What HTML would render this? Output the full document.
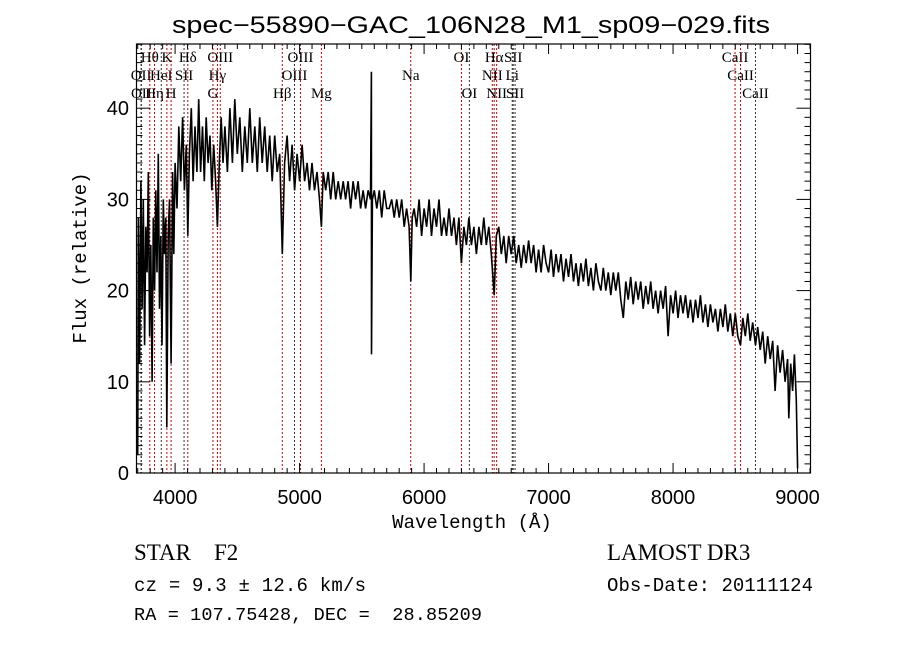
<!DOCTYPE html>
<html><head><meta charset="utf-8">
<style>
html,body{margin:0;padding:0;background:#fff;}
svg{display:block;}
text{fill:#000;}
</style></head>
<body>
<svg id="chart" width="900" height="649" viewBox="0 0 900 649" xmlns="http://www.w3.org/2000/svg">
<rect width="900" height="649" fill="#fff"/>
<text x="172" y="33" font-family="Liberation Sans, sans-serif" font-size="24" textLength="598" lengthAdjust="spacingAndGlyphs">spec−55890−GAC_106N28_M1_sp09−029.fits</text>
<g id="lines"></g>
<g id="spec"></g>
<g id="axes"></g>
<text x="472" y="528" font-family="Liberation Mono, monospace" font-size="19" text-anchor="middle">Wavelength (Å)</text>
<text transform="translate(86,258) rotate(-90)" font-family="Liberation Mono, monospace" font-size="19" text-anchor="middle">Flux (relative)</text>
<text x="134" y="560" font-family="Liberation Serif, serif" font-size="23" xml:space="preserve">STAR    F2</text>
<text x="134" y="591" font-family="Liberation Mono, monospace" font-size="19" textLength="232">cz = 9.3 ± 12.6 km/s</text>
<text x="134" y="620" font-family="Liberation Mono, monospace" font-size="18.5" xml:space="preserve" textLength="348">RA = 107.75428, DEC =  28.85209</text>
<text x="607" y="560" font-family="Liberation Serif, serif" font-size="23">LAMOST DR3</text>
<text x="607" y="591" font-family="Liberation Mono, monospace" font-size="19" textLength="206">Obs-Date: 20111124</text>
</svg>
<script>
const wave = [3700,3705,3715,3725,3735,3745,3755,3765,3775,3785,3795,3805,3815,3825,3835,3845,3855,3865,3875,3885,3895,3905,3915,3925,3933,3945,3955,3968,3980,3990,4000,4015,4030,4045,4060,4075,4090,4102,4115,4130,4145,4160,4175,4190,4205,4220,4235,4250,4265,4280,4295,4310,4325,4340,4355,4370,4385,4400,4420,4440,4460,4480,4500,4520,4540,4560,4580,4600,4620,4640,4660,4680,4700,4720,4740,4760,4780,4800,4820,4840,4861,4880,4900,4920,4940,4960,4980,5000,5020,5040,5060,5080,5100,5120,5140,5160,5175,5190,5210,5230,5250,5270,5290,5310,5330,5350,5370,5390,5410,5430,5450,5470,5490,5510,5530,5550,5570,5577,5578,5585,5600,5620,5640,5660,5680,5700,5720,5740,5760,5780,5800,5820,5840,5860,5880,5893,5905,5920,5940,5960,5980,6000,6020,6040,6060,6080,6100,6120,6140,6160,6180,6200,6220,6240,6260,6280,6300,6320,6340,6360,6380,6400,6420,6440,6460,6480,6500,6520,6540,6563,6580,6600,6620,6640,6660,6680,6700,6720,6740,6760,6780,6800,6820,6840,6860,6880,6900,6920,6940,6960,6980,7000,7020,7040,7060,7080,7100,7120,7140,7160,7180,7200,7220,7240,7260,7280,7300,7320,7340,7360,7380,7400,7420,7440,7460,7480,7500,7520,7540,7560,7580,7600,7620,7640,7660,7680,7700,7720,7740,7760,7780,7800,7820,7840,7860,7880,7900,7920,7940,7960,7980,8000,8020,8040,8060,8080,8100,8120,8140,8160,8180,8200,8220,8240,8260,8280,8300,8320,8340,8360,8380,8400,8420,8440,8460,8480,8500,8520,8542,8560,8580,8600,8620,8640,8662,8680,8700,8720,8740,8760,8780,8800,8820,8840,8860,8880,8900,8920,8930,8945,8960,8975,8990,9000];
const flux = [2,28,12,32,18,30,14,27,22,33,15,25,10,28,20,31,22,35,18,26,14,30,24,28,5,26,30,12,33,24,34,29,38,32,39,31,36,26,35,40,32,38,33,41,33,38,32,39,34,37,31,36,32,27,34,39,34,38,33,40,34,41,35,39,33,38,34,40,34,38,33,39,34,38,33,37,32,37,33,35,24,34,37,32,36,31,35,32,36,32,34,31,34,31,33,30,27,33,31,33,30,33,30,32,30,32,30,32,29,32,30,32,29,31,29,31,30,44,13,30,31,29,31,28,31,29,29,30,28,30,28,30,27,29,27,21,28,29,27,30,26,29,27,30,26,29,27,30,26,28,26,29,26,28,25,28,23,27,25,28,25,27,24,27,25,28,25,27,24,19.5,26,27,24,26,23,26,24,26,23,25,22.5,25,23,25.5,23,25,22,24.5,22,25,23,22,24.5,21.5,24,22,24,21,23.5,21.5,24,21,23,20.5,23,21,23.5,20.5,22.5,20,23,21,20,22.5,20,22,19.5,22,20,22,19,17,21,19,21.5,18.5,21,19,21,18,20.5,18.5,21,18,20,17.5,20,18,20.5,15,19.5,17.5,20,17,19.5,17.5,19.5,17,19,16.5,19,17,19.5,16.5,18.5,16,18.5,16.5,18,15.5,18,16,18.5,15.5,17.5,15,17.5,15,14,17,15,17.5,14.5,16.5,14,16,13.5,15.5,12,15,12.5,14.5,9,14,11,13.5,10,12.5,6,12,9,13,8,0.5];
const lineWaves = [3727,3729,3797,3835,3889,3934,3968,4072,4102,4304,4340,4363,4861,4959,5007,5175,5893,6300,6364,6548,6563,6583,6708,6716,6731,8498,8542,8662];
const lineNames = ["OII","OII","Hθ","Hη","HeI","K","H","SII","Hδ","G","Hγ","OIII","Hβ","OIII","OIII","Mg","Na","OI","OI","NII","Hα","NII","Li","SII","SII","CaII","CaII","CaII"];
const lineRows = [2,3,1,3,2,1,3,2,1,3,2,1,3,2,1,3,2,1,3,2,1,3,2,1,3,1,2,3];
const lineColors = ["k","k","r","r","k","r","r","k","r","r","r","r","r","k","r","r","r","r","k","r","r","r","k","k","k","r","r","k"];
const xTicks = [4000,5000,6000,7000,8000,9000];
const yTicks = [0,10,20,30,40];

const X0=136.5, X1=810.5, Y0=44, Y1=473;
const WMIN=3690, WMAX=9104, FMIN=0, FMAX=47.04;
const xs = w => X0 + (w-WMIN)/(WMAX-WMIN)*(X1-X0);
const ys = f => Y1 - (f-FMIN)/(FMAX-FMIN)*(Y1-Y0);
const NS="http://www.w3.org/2000/svg";
function mk(tag, attrs, parent){const e=document.createElementNS(NS,tag);for(const k in attrs)e.setAttribute(k,attrs[k]);parent.appendChild(e);return e;}

const gl=document.getElementById('lines');
const rowY={1:62,2:80,3:98};
lineWaves.forEach((w,i)=>{
  const x=xs(w);
  const l=mk('line',{x1:x,x2:x,y1:Y0,y2:Y1,stroke:lineColors[i]==='r'?'#c00000':'#333',"stroke-width":1,"stroke-dasharray":"2,2"},gl);
  
  
  const t=mk('text',{x:x,y:rowY[lineRows[i]],"text-anchor":"middle","font-family":"Liberation Serif, serif","font-size":15},gl);
  t.textContent=lineNames[i];
  
  
});

const gs=document.getElementById('spec');
let d='';
wave.forEach((w,i)=>{d+=(i?'L':'M')+xs(w).toFixed(1)+','+ys(flux[i]).toFixed(1);});
const p=mk('path',{d:d,fill:'none',stroke:'#000',"stroke-width":1.6,"stroke-linejoin":"miter"},gs);



const ga=document.getElementById('axes');
const fr=mk('rect',{x:X0,y:Y0,width:X1-X0,height:Y1-Y0,fill:'none',stroke:'#000',"stroke-width":1.2},ga);


for(let w=3700; w<=9100; w+=100){
  const x=xs(w), major=(w%1000===0), len=major?10:5;
  mk('line',{x1:x,x2:x,y1:Y1,y2:Y1-len,stroke:'#000'},ga);
  mk('line',{x1:x,x2:x,y1:Y0,y2:Y0+len,stroke:'#000'},ga);
}
xTicks.forEach(w=>{
  const t=mk('text',{x:xs(w),y:504,"text-anchor":"middle","font-family":"Liberation Sans, sans-serif","font-size":20},ga);
  t.textContent=w;
  
  
});
for(let f=0; f<=47; f+=1){
  const y=ys(f), major=(f%10===0), len=major?14:6;
  mk('line',{x1:X0,x2:X0+len,y1:y,y2:y,stroke:'#000'},ga);
  mk('line',{x1:X1,x2:X1-len,y1:y,y2:y,stroke:'#000'},ga);
}
yTicks.forEach(f=>{
  const t=mk('text',{x:129,y:ys(f)+7,"text-anchor":"end","font-family":"Liberation Sans, sans-serif","font-size":20},ga);
  t.textContent=f;
  
  
});
</script>
</body></html>
